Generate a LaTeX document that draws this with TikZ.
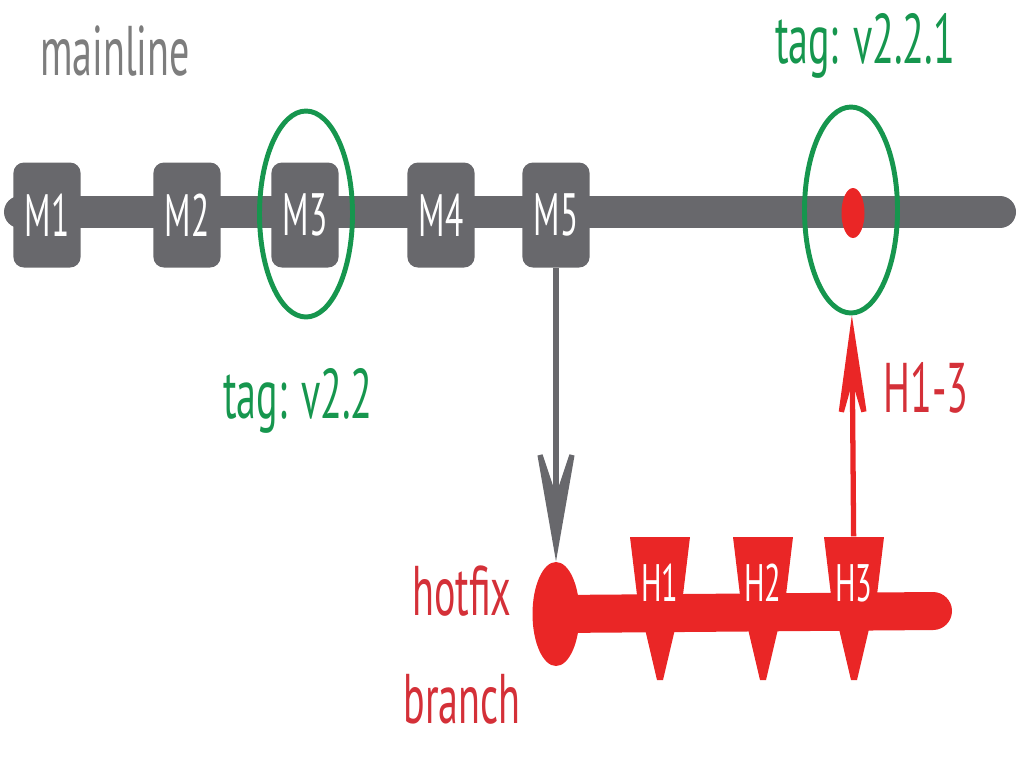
\documentclass[tikz,border=0pt]{standalone}
\usepackage{fontspec}
\setmainfont{PT Sans}
\usetikzlibrary{arrows.meta,shapes.geometric}
\definecolor{linegray}{RGB}{104,104,108}
\definecolor{taggreen}{RGB}{22,150,78}
\definecolor{fixred}{RGB}{234,38,38}
\definecolor{labelred}{RGB}{212,48,56}
\definecolor{labelgray}{RGB}{125,125,125}

\begin{document}
\begin{tikzpicture}
    \tikzset{commit/.style=  {fill=linegray,
                              rounded corners=3pt,
                              text=white,
                              inner sep=0pt,
                              minimum width=1.2cm,
                              minimum height=1.05cm,
                              xscale=0.56,
                              font=\fontsize{17}{17}\selectfont},
             hcommit/.style= {text=white,
                              inner sep=0pt,
                              minimum width=1.0cm,
                              minimum height=0.92cm,
                              xscale=0.58,
                              font=\fontsize{15}{15}\selectfont},
             tagring/.style= {draw=taggreen,
                              ellipse,
                              line width=1.4pt,
                              inner sep=0pt,
                              minimum width=0.93cm,
                              minimum height=2.06cm},
             bigtext/.style= {inner sep=0pt,
                              align=center,
                              xscale=0.57,
                              font=\fontsize{20}{30.5}\selectfont},
             mainbar/.style= {linegray, line width=0.32cm, line cap=round},
             fixbar/.style=  {fixred, line width=0.38cm, line cap=round},
             grayarrow/.style= {linegray, line width=1.5pt,
                                -{Stealth[length=40pt,width=14pt,inset=21pt]}},
             redarrow/.style=  {fixred, line width=1.5pt,
                                -{Stealth[length=38pt,width=11pt,inset=19pt]}},
            }
    \useasboundingbox (0,0) rectangle (10.19,-7.61);
    % branch lines
    \coordinate (mstart) at (0.20,-2.12);
    \coordinate (mend)   at (10.00,-2.12);
    \coordinate (hend)   at (9.33,-6.11);
    \draw[mainbar] (mstart) -- (mend);
    \path (5.56,-6.14) node[ellipse, fill=fixred, inner sep=0pt,
                            minimum width=0.47cm, minimum height=1.04cm](hf) {};
    \draw[fixbar] (hf.center) -- (hend);
    % hotfix commit markers
    \foreach \x in {6.60,7.63,8.54}
        \fill[fixred, shift={(\x,-5.83)}]
            (-0.30,0.46) -- (0.30,0.46) -- (0.23,-0.12) -- (0.03,-0.97)
            -- (-0.03,-0.97) -- (-0.23,-0.12) -- cycle;
    \path
    (0.47,-2.15)  node[commit](m1) {M1}
    (1.87,-2.15)  node[commit](m2) {M2}
    (3.05,-2.15)  node[commit](m3) {M3}
    (4.41,-2.15)  node[commit](m4) {M4}
    (5.56,-2.15)  node[commit](m5) {M5}
    (6.60,-5.83)  node[hcommit](h1) {H1}
    (7.63,-5.83)  node[hcommit](h2) {H2}
    (8.54,-5.83)  node[hcommit](h3) {H3}
    (3.06,-2.14)  node[tagring](t22) {}
    (8.51,-2.10)  node[tagring](t221) {}
    (8.53,-2.13)  node[ellipse, fill=fixred, inner sep=0pt,
                       minimum width=0.23cm, minimum height=0.5cm](head) {}
    (1.15,-0.75)  node[bigtext, text=labelgray, anchor=base](main) {mainline}
    (2.98,-4.18)  node[bigtext, text=taggreen, anchor=base](lv22) {tag: v2.2}
    (8.65,-0.63)  node[bigtext, text=taggreen, anchor=base](lv221) {tag: v2.2.1}
    (9.26,-4.12)  node[bigtext, text=labelred, anchor=base](lh13) {H1-3}
    (4.62,-6.45)  node[bigtext, text=labelred](lfix) {hotfix\\branch}
    ;
    \draw[grayarrow] (m5) -- (hf);
    \draw[redarrow]  (h3) -- (t221);
\end{tikzpicture}
\end{document}
